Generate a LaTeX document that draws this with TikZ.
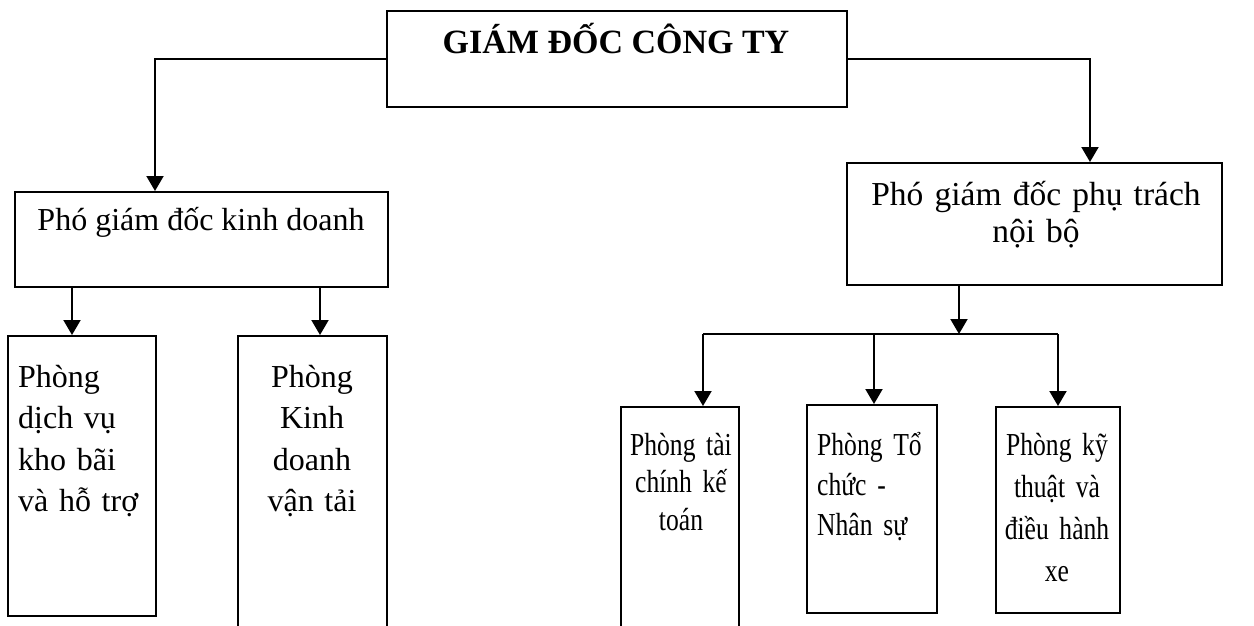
\documentclass[tikz,border=0pt]{standalone}
\usepackage{fontspec}
\setmainfont{Liberation Serif}
\newfontfamily\condfont[FakeStretch=0.8]{Liberation Serif}
\usetikzlibrary{arrows.meta}
\begin{document}
\begin{tikzpicture}[x=1pt,y=-1pt,
  box/.style={draw,line width=2pt,rectangle,inner sep=0pt},
  conn/.style={line width=2pt},
  arr/.style={conn,-{Triangle[length=15pt,width=17pt]}},
  lbl/.style={inner sep=0pt,font=\fontsize{32}{41.5}\selectfont}]
\useasboundingbox[fill=white] (0,0) rectangle (1254,625);
% boxes
\node[box,minimum width=460pt,minimum height=96pt] (gd) at (617,59) {};
\node[box,minimum width=373pt,minimum height=95pt] (vp1) at (201.5,239.5) {};
\node[box,minimum width=375pt,minimum height=122pt] (vp2) at (1034.5,224) {};
\node[box,minimum width=148pt,minimum height=280pt] (b1) at (82,476) {};
\node[box,minimum width=149pt,minimum height=292pt] (b2) at (312.5,482) {};
\node[box,minimum width=118pt,minimum height=220pt] (bA) at (680,517) {};
\node[box,minimum width=130pt,minimum height=208pt] (bB) at (872,509) {};
\node[box,minimum width=124pt,minimum height=206pt] (bC) at (1058,510) {};
% texts
\node[lbl,anchor=base,font=\bfseries\fontsize{34}{40}\selectfont] (t0) at (616,53) {GIÁM ĐỐC CÔNG TY};
\node[lbl,anchor=base] (t1) at (201,230) {Phó giám đốc kinh doanh};
\node[lbl,anchor=base,align=center,text width=370pt,font=\fontsize{33.5}{37}\selectfont] (t2) at (1036,205) {Phó giám đốc phụ trách\\nội bộ};
\node[lbl,anchor=base west,align=left,text width=135pt] (t3) at (18,387) {Phòng\\dịch vụ\\kho bãi\\và hỗ trợ};
\node[lbl,anchor=base,align=center,text width=140pt] (t4) at (312,387) {Phòng\\Kinh\\doanh\\vận tải};
\node[lbl,anchor=base,align=center,text width=115pt,font=\condfont\fontsize{32}{37.5}\selectfont] (t5) at (681,455) {Phòng tài\\chính kế\\toán};
\node[lbl,anchor=base west,align=left,text width=120pt,font=\condfont\fontsize{32}{40}\selectfont] (t6) at (817,455) {Phòng Tổ\\chức -\\Nhân sự};
\node[lbl,anchor=base,align=center,text width=120pt,font=\condfont\fontsize{32}{42}\selectfont] (t7) at (1057,455) {Phòng kỹ\\thuật và\\điều hành\\xe};
% connectors
\coordinate (d1) at ([xshift=141pt]vp1.north west);
\coordinate (d2) at ([xshift=244pt]vp2.north west);
\draw[arr] (gd.west) -| (d1);
\draw[arr] (gd.east) -| (d2);
\coordinate (p1) at ([xshift=-10pt]b1.north);
\coordinate (p2) at ([xshift=7.5pt]b2.north);
\draw[arr] (p1 |- vp1.south) -- (p1);
\draw[arr] (p2 |- vp1.south) -- (p2);
\coordinate (barM) at (959,334);
\coordinate (barL) at (703,334);
\coordinate (barB) at (874,334);
\coordinate (barR) at (1058,334);
\draw[arr] (vp2.south -| barM) -- (barM);
\draw[conn] (barL) -- (barR);
\draw[arr] (barL) -- (barL |- bA.north);
\draw[arr] (barB) -- (barB |- bB.north);
\draw[arr] (barR) -- (barR |- bC.north);
\end{tikzpicture}
\end{document}
